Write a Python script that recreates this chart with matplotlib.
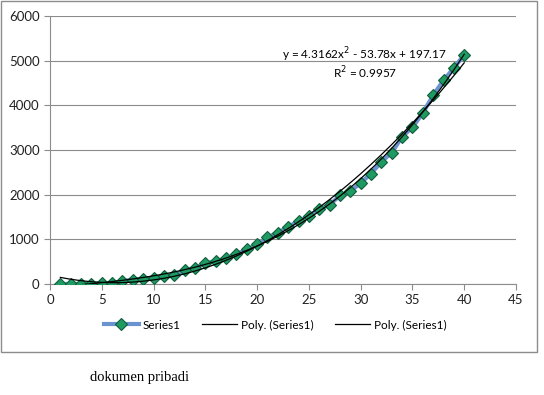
import numpy as np
import matplotlib
matplotlib.use("Agg")
import matplotlib.pyplot as plt
from matplotlib.patches import Rectangle
from matplotlib.lines import Line2D

x_vals = list(range(1, 41))
y_vals = [0, 0, 0, 0, 15, 15, 68, 98, 120, 135,
          173, 210, 308, 360, 459, 511, 571, 669, 774, 887,
          1045, 1150, 1278, 1414, 1519, 1684, 1767, 1985, 2075, 2263,
          2470, 2739, 2940, 3299, 3507, 3828, 4224, 4560, 4836, 5134]
trend_coeffs = [4.3162, -53.78, 197.17]
x_ticks = [0, 5, 10, 15, 20, 25, 30, 35, 40, 45]
y_ticks = [0, 1000, 2000, 3000, 4000, 5000, 6000]
legend_labels = ["Series1", "Poly. (Series1)", "Poly. (Series1)"]
caption = "dokumen pribadi"

plt.rcParams['font.family'] = ['Lato', 'DejaVu Sans']

fig = plt.figure(figsize=(5.44, 3.95), dpi=100)
fig.patch.set_facecolor('white')
fig.patches.append(Rectangle((1/544, 43/395), 536/544, 351/395, transform=fig.transFigure,
                             fill=False, edgecolor='#8c8c8c', linewidth=1.0))

ax = fig.add_axes([50/544, 111/395, 466/544, 268/395])
x = np.array(x_vals, dtype=float)
y = np.array(y_vals, dtype=float)

ax.plot(x, y, color='#6a93cf', linewidth=3, marker='D', markersize=6.5,
        markerfacecolor='#1f9a63', markeredgecolor='#0f5e3a', markeredgewidth=0.8, zorder=3)
xs = np.linspace(1, 40, 200)
ax.plot(xs, np.polyval(trend_coeffs, xs), color='black', linewidth=0.9, zorder=4)
fit2 = np.polyfit(x, y, 3)
ax.plot(xs, np.polyval(fit2, xs), color='black', linewidth=0.9, zorder=4)

ax.set_xlim(0, 45)
ax.set_ylim(0, 6000)
ax.set_xticks(x_ticks)
ax.set_yticks(y_ticks)
ax.tick_params(axis='both', labelsize=9.5, colors='#222222', length=4, width=0.8)
ax.tick_params(axis='x', color='#8c8c8c', direction='out')
ax.tick_params(axis='y', color='#8c8c8c', direction='out')
ax.grid(axis='y', color='#8c8c8c', linewidth=0.8)
ax.set_axisbelow(True)
for s in ['top', 'right']:
    ax.spines[s].set_visible(False)
for s in ['left', 'bottom']:
    ax.spines[s].set_color('#8c8c8c')
    ax.spines[s].set_linewidth(0.8)

ax.text(30.4, 5130, "y = 4.3162x$^2$ - 53.78x + 197.17", ha='center', va='center', fontsize=8.5)
ax.text(30.4, 4740, "R$^2$ = 0.9957", ha='center', va='center', fontsize=8.5)

handles = [
    Line2D([0], [0], color='#6a93cf', linewidth=3, marker='D', markersize=6.5,
           markerfacecolor='#1f9a63', markeredgecolor='#0f5e3a', markeredgewidth=0.8),
    Line2D([0], [0], color='black', linewidth=0.9),
    Line2D([0], [0], color='black', linewidth=0.9),
]
fig.legend(handles, legend_labels, loc='center', bbox_to_anchor=(275/544, 1 - 325/395),
           ncol=3, frameon=False, fontsize=8.5, handlelength=3, columnspacing=1.8, handletextpad=0.3)

fig.text(90/544, 1 - 378/395, caption, family='Liberation Serif', fontsize=10.5, va='center', ha='left')

fig.savefig('out.png', dpi=100)
